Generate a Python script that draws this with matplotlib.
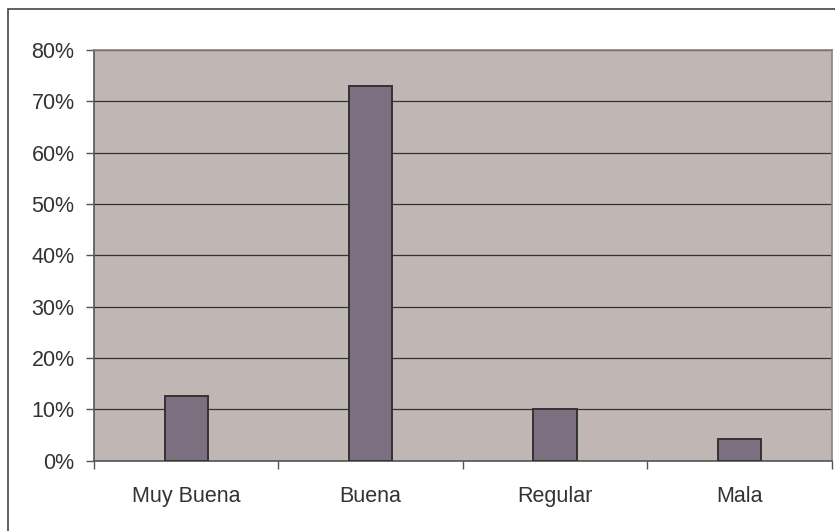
import numpy as np
import matplotlib
matplotlib.use("Agg")
import matplotlib.pyplot as plt
from matplotlib.patches import Rectangle
from matplotlib.ticker import PercentFormatter, FixedLocator

categorias = ["Muy Buena", "Buena", "Regular", "Mala"]
porcentajes = [0.126, 0.729, 0.101, 0.042]
marcas_y = [0.0, 0.1, 0.2, 0.3, 0.4, 0.5, 0.6, 0.7, 0.8]

plt.rcParams['font.family'] = ['Liberation Sans', 'DejaVu Sans']

fig = plt.figure(figsize=(8.35, 5.31), dpi=100)
fig.patch.set_facecolor('white')

# marco exterior del gráfico
fig.patches.append(Rectangle((8/835, -0.02), 1.05, 1 - 9/531 + 0.02,
                             transform=fig.transFigure, fill=False,
                             edgecolor='#444444', linewidth=1.2, zorder=0))

ax = fig.add_axes([94/835, (531-460.7)/531, (831.7-94)/835, (460.7-50)/531])
ax.set_facecolor('#c0b7b4')

pos = np.arange(len(categorias)) + 0.5
ax.bar(pos, porcentajes, width=0.235, color='#7b6f80', edgecolor='#333333',
       linewidth=1.4, zorder=3)

ax.set_xlim(0, len(categorias))
ax.set_ylim(0, 0.8)
ax.set_yticks(marcas_y)
ax.yaxis.set_major_formatter(PercentFormatter(1.0, decimals=0))
ax.yaxis.grid(True, color='#333333', linewidth=0.9, zorder=1)
ax.set_axisbelow(True)

# ticks de categoría en los bordes, etiquetas centradas
ax.xaxis.set_major_locator(FixedLocator(np.arange(len(categorias) + 1)))
ax.xaxis.set_minor_locator(FixedLocator(pos))
ax.set_xticklabels([], minor=False)
ax.set_xticklabels(categorias, minor=True)
ax.tick_params(axis='x', which='major', length=6, color='#555555', width=1)
ax.tick_params(axis='x', which='minor', length=0, pad=18, labelsize=15.5,
               labelcolor='#333333')
ax.tick_params(axis='y', length=6, color='#555555', width=1, pad=8,
               labelsize=15.5, labelcolor='#333333')

for lado in ['top', 'right']:
    ax.spines[lado].set_color('#8a807e')
    ax.spines[lado].set_linewidth(1.2)
for lado in ['left', 'bottom']:
    ax.spines[lado].set_color('#555555')
    ax.spines[lado].set_linewidth(1.2)

fig.savefig("out.png", dpi=100)
